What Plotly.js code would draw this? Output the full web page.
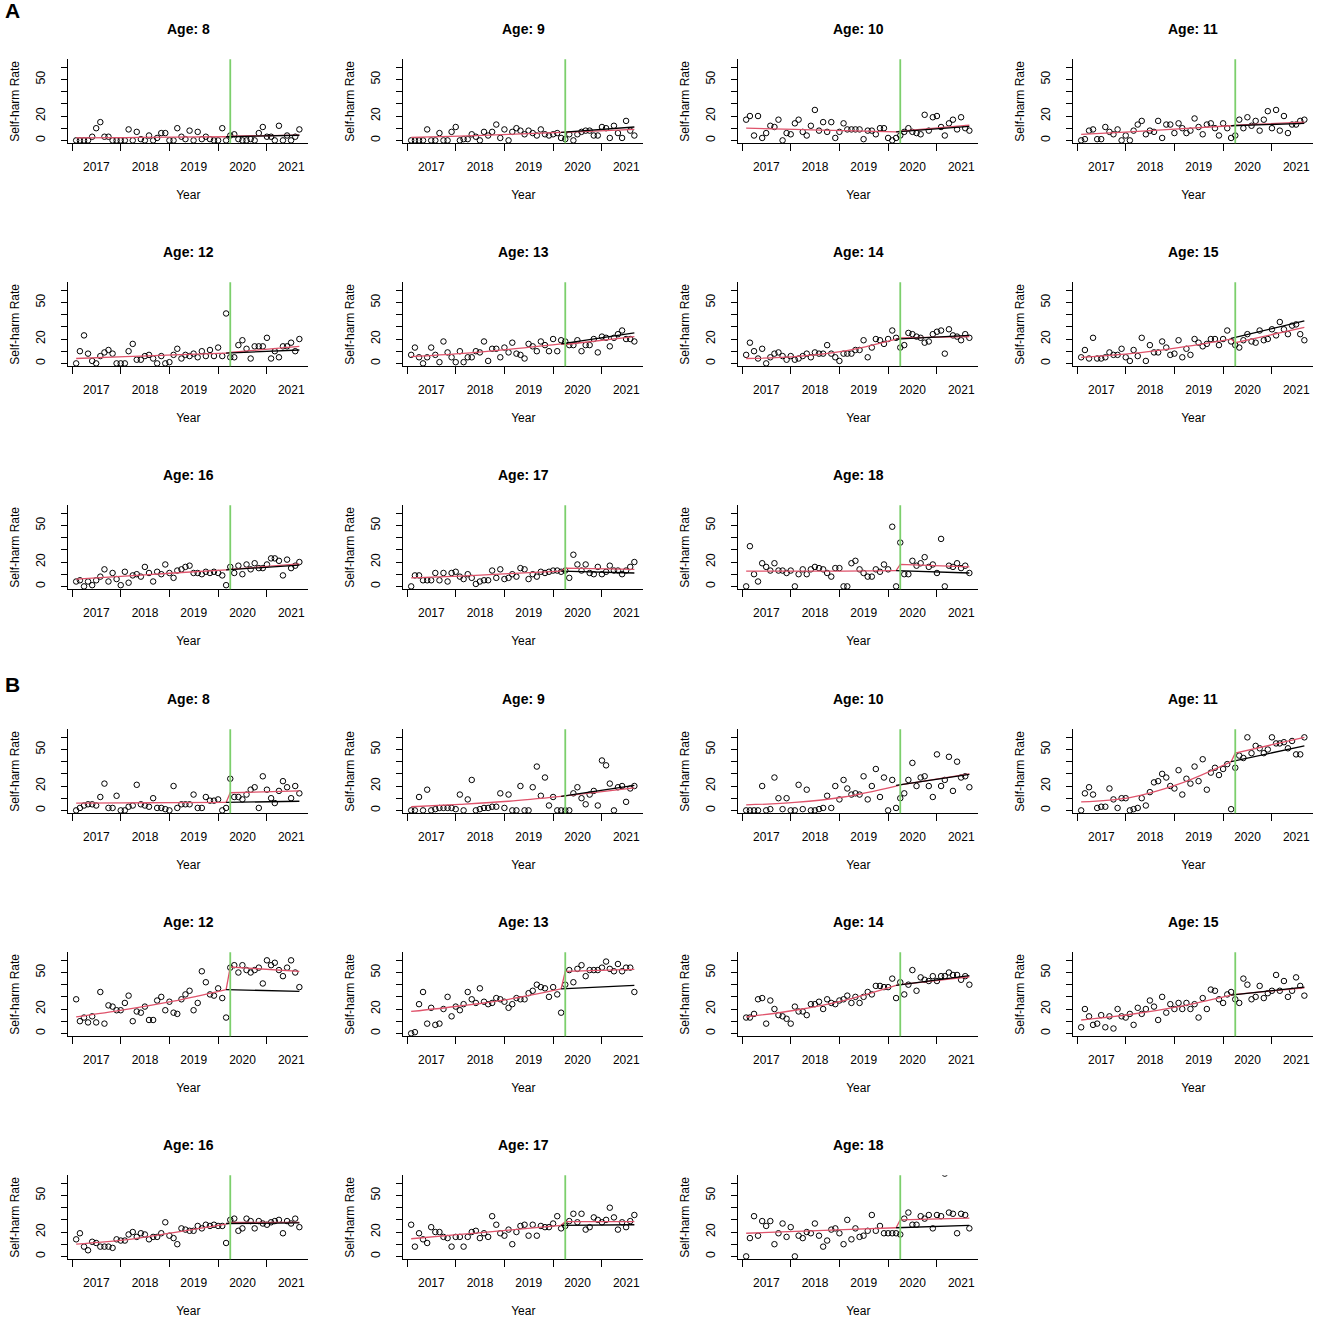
<!DOCTYPE html>
<html>
<head>
<meta charset="utf-8">
<script src="https://cdn.plot.ly/plotly-3.0.1.min.js"></script>
<style>
  html, body { margin: 0; padding: 0; background: #fff; }
  #chart { width: 1325px; height: 1325px; }
</style>
</head>
<body>
<div id="chart"></div>
<script>
// monthly self-harm rates, Feb 2017 .. Sep 2021 (56 months)
const ages = [8, 9, 10, 11, 12, 13, 14, 15, 16, 17, 18];
const groups = ["A", "B"];

const rateA8  = [0,0,0,0,3,10,15,3,3,0, 0,0,0,9,0,7,1,0,4,0, 2,6,6,0,0,10,3,1,8,0, 7,1,3,1,0,0,10,0,4,5, 1,0,0,1,0,6,11,3,3,0, 12,0,4,0,3,9];
const rateA9  = [0,0,0,0,9,0,0,6,0,0, 7,11,0,1,1,5,3,0,7,4, 7,13,2,9,0,7,10,8,5,8, 6,4,9,5,4,5,6,2,1,5, 0,5,7,8,8,4,4,11,10,2, 12,6,2,16,8,4];
const rateA10 = [17,20,4,20,2,6,12,11,17,0, 6,5,14,17,7,4,12,25,8,15, 7,15,2,7,14,9,9,9,9,1, 8,8,5,10,10,2,0,2,4,7, 10,7,6,5,21,8,19,20,11,4, 14,17,9,19,10,8];
const rateA11 = [0,1,8,9,1,1,11,7,5,9, 0,4,0,8,13,16,5,8,7,16, 2,13,13,6,14,10,6,8,18,11, 5,13,14,10,4,14,10,2,4,17, 10,19,12,16,8,17,24,10,25,8, 20,6,13,13,16,17];
const rateA12 = [0,10,23,8,2,0,6,9,11,8, 0,0,0,10,16,3,3,6,7,4, 0,6,0,1,7,12,4,7,6,8, 5,10,6,11,6,13,6,41,5,5, 15,19,12,4,14,14,14,21,4,10, 5,14,14,17,10,20];
const rateA13 = [7,13,5,0,5,13,7,1,18,9, 5,1,10,1,5,5,10,9,18,2, 12,12,5,13,9,17,8,7,4,16, 14,10,18,15,10,20,10,19,18,15, 15,19,10,15,15,20,9,22,21,14, 21,24,27,20,20,18];
const rateA14 = [7,17,10,4,12,0,5,8,9,6, 3,6,3,4,6,8,5,9,8,8, 15,8,5,2,8,8,8,11,11,19, 5,13,20,19,16,20,27,21,13,15, 25,24,22,21,17,18,24,26,27,8, 28,23,22,19,24,21];
const rateA15 = [5,11,4,21,4,4,5,9,7,7, 12,5,2,11,6,21,2,15,9,9, 18,13,7,8,19,5,12,7,20,17, 14,16,20,20,15,20,27,18,15,13, 19,24,18,17,27,19,20,28,23,34, 28,24,31,32,24,19];
const rateA16 = [4,5,0,4,1,5,8,14,4,11, 6,1,12,3,9,10,8,16,11,4, 12,10,18,11,7,13,14,16,17,11, 11,10,12,11,12,11,9,1,16,11, 17,10,18,14,19,15,15,18,23,23, 21,9,22,15,17,20];
const rateA17 = [0,9,9,5,5,5,11,5,11,4, 11,12,8,6,10,7,2,4,5,5, 13,7,14,6,7,10,8,15,14,6, 10,8,12,11,12,13,13,12,13,7, 26,18,13,18,11,10,16,10,12,17, 13,13,10,13,16,20];
const rateA18 = [0,33,10,4,19,16,13,19,13,13, 11,13,0,10,14,10,14,16,15,14, 11,8,15,15,0,0,19,21,14,11, 8,8,14,12,18,14,49,0,36,10, 10,21,17,19,24,16,18,11,39,0, 17,16,19,15,17,11];

const rateB8  = [0,2,4,5,5,4,11,22,2,2, 12,0,0,3,4,21,5,4,3,10, 2,2,1,0,20,2,5,5,5,13, 2,2,11,8,8,9,0,2,26,11, 11,9,13,17,19,2,28,17,10,6, 16,24,19,10,20,14];
const rateB9  = [0,0,11,0,17,0,1,2,2,2, 2,1,13,0,9,25,0,1,2,2, 3,3,14,2,13,0,0,20,0,0, 19,36,12,27,4,11,0,0,0,0, 14,19,10,5,13,16,4,41,37,22, 0,19,20,7,18,20];
const rateB10 = [0,0,0,0,20,0,1,27,10,1, 10,0,0,21,1,17,0,0,1,2, 12,2,20,9,25,18,13,14,13,28, 9,20,34,11,27,0,25,2,10,14, 25,39,20,27,28,20,11,46,20,25, 44,16,40,27,28,19];
const rateB11 = [0,14,19,13,2,3,3,18,9,2, 10,10,0,1,2,10,4,15,23,24, 30,27,20,18,33,13,26,22,36,24, 42,17,31,35,29,34,38,1,35,45, 43,60,47,53,51,47,50,60,55,55, 56,51,57,46,46,60];
const rateB12 = [28,10,13,9,14,9,34,8,23,22, 19,19,25,31,10,18,17,22,11,11, 27,30,19,26,17,16,28,32,35,19, 25,51,42,32,31,37,29,13,54,56, 50,56,52,50,52,54,41,60,56,58, 52,47,54,60,50,38];
const rateB13 = [0,1,24,34,8,21,7,8,20,30, 14,22,19,24,34,28,25,37,26,24, 25,29,28,26,21,24,29,28,28,33, 35,40,38,37,30,38,32,17,40,52, 42,53,56,47,52,52,52,54,59,53, 51,57,51,54,54,34];
const rateB14 = [13,13,16,28,29,8,27,20,15,14, 12,8,22,18,18,15,24,24,26,20, 28,25,24,27,28,31,25,30,25,30, 34,32,39,39,38,38,45,29,42,32, 40,52,35,46,44,43,47,43,47,47, 50,48,48,44,47,40];
const rateB15 = [5,20,14,7,8,15,5,14,4,20, 14,13,16,7,21,16,20,27,22,11, 30,17,24,20,25,20,25,20,24,13, 29,20,36,35,28,25,32,34,28,25, 45,40,28,30,39,29,33,35,48,35, 43,30,35,46,39,31];
const rateB16 = [14,19,8,5,12,11,8,8,8,7, 14,13,13,18,20,16,19,18,14,16, 16,19,28,17,15,10,23,22,21,21, 25,23,26,25,26,25,25,11,30,31, 21,23,31,29,23,29,27,26,28,29, 30,19,29,27,31,24];
const rateB17 = [26,8,19,14,11,24,20,20,16,15, 8,16,16,8,16,20,21,15,19,16, 33,26,19,17,22,10,20,25,26,17, 26,17,25,24,24,27,33,23,25,29, 35,28,35,22,24,32,30,28,30,40, 32,22,28,24,29,34];
const rateB18 = [0,15,33,17,29,25,29,10,19,27, 16,24,0,17,15,20,19,27,17,8, 13,22,23,19,10,30,14,23,16,17, 21,34,21,25,19,19,19,19,18,31, 36,26,26,33,31,34,23,34,33,68, 36,35,19,35,34,23];

const ratesA = [rateA8, rateA9, rateA10, rateA11, rateA12, rateA13, rateA14, rateA15, rateA16, rateA17, rateA18];
const ratesB = [rateB8, rateB9, rateB10, rateB11, rateB12, rateB13, rateB14, rateB15, rateB16, rateB17, rateB18];

// fitted model (pink): pre-period at months 0,12,24,37 ; post-period at months 38,55
// counterfactual (black): months 37,55
const fitPreA  = [[2,2.3,2.7,3],[2.5,3.5,5,6.5],[10,9,8,7],[5,7,9.5,12],[4,5.5,7,8.5],[5.5,8,11.5,16],[4,5.5,10,20],[5,8,13,20],[6,8.5,11,13.5],[7,8.5,10.5,12.5],[12.5,12.5,12.5,13]];
const fitPostA = [[3.5,4.3],[6.5,9],[7.5,12.5],[12.5,15],[9,14],[15.5,22],[21,22],[17,29.5],[14,18.5],[15,14],[18,16]];
const cfA      = [[3,4.2],[6.5,11],[7,11.5],[12,14],[8.5,11],[16,25],[20,23],[20.5,35],[13.5,17.5],[12.5,11],[13,11]];

const fitPreB  = [[6,6.2,6.4,6.5],[3,5,7.5,11.5],[4.5,6.5,11,20],[7,10.5,21.5,40],[13.5,19.5,26.5,36],[18,22.5,28,36.5],[13.5,19,27,39.5],[11,15.5,22,31.5],[10,13.5,19.5,26.5],[14.5,18,21.5,25.5],[19,20.5,22,23.5]];
const fitPostB = [[14.5,16],[12,18.5],[21,30],[47,60],[54.5,51],[51,52.5],[40,46.5],[32,37.5],[28,28],[28.5,28.5],[30,31.5]];
const cfB      = [[6.5,7.5],[11.5,20.5],[20.5,29.5],[40,53],[36,34.5],[36.5,39.5],[39.5,47.5],[31.5,38],[27,27.5],[25.5,26],[23.5,25.5]];

const yearLabels = ["2017", "2018", "2019", "2020", "2021"];
const yearStarts = ["2017-01-01", "2018-01-01", "2019-01-01", "2020-01-01", "2021-01-01"];
const midYears   = ["2017-07-02", "2018-07-02", "2019-07-02", "2020-07-02", "2021-07-02"];
const yTicks     = [0, 10, 20, 30, 40, 50, 60];
const yTickText  = ["0", "", "20", "", "", "50", ""];

const PRE_KNOTS = [0, 12, 24, 37];
const LAST_PRE = 37, FIRST_POST = 38, LAST = 55;

// month categories
const months = [];
for (let i = 0; i < rateA8.length; i++) {
    const d = new Date(Date.UTC(2017, 1 + i, 1));
    months.push(d.toISOString().slice(0, 10));
}

const W = 1325, H = 1325;
const PW = 240, PH = 84;
const colLeft = [68.3, 403.3, 738.3, 1073.3];
const rowTop = [59.3, 282.3, 505.3];
const groupShift = 670;

const FONT = "Liberation Sans, Arial, Helvetica, sans-serif";
const PINK = "#DF536B";
const GREEN = "#7CCF6C";

const traces = [];
const layout = {
    width: W, height: H,
    margin: {l: 0, r: 0, t: 0, b: 0},
    paper_bgcolor: "#fff", plot_bgcolor: "#fff",
    showlegend: false,
    font: {family: FONT, size: 12, color: "#000"},
    shapes: [], annotations: []
};

const allRates = [ratesA, ratesB];
const allPre = [fitPreA, fitPreB];
const allPost = [fitPostA, fitPostB];
const allCf = [cfA, cfB];

groups.forEach((g, gi) => {
    ages.forEach((age, p) => {
        const k = gi * ages.length + p + 1;
        const xId = k === 1 ? "x" : "x" + k;
        const yId = k === 1 ? "y" : "y" + k;
        const row = Math.floor(p / 4), col = p % 4;
        const left = colLeft[col];
        const top = rowTop[row] + gi * groupShift;

        layout[k === 1 ? "xaxis" : "xaxis" + k] = {
            domain: [left / W, (left + PW) / W],
            anchor: yId,
            type: "date",
            range: ["2016-12-04", "2021-11-07"],
            showline: true, linecolor: "#000", linewidth: 1,
            showgrid: false, zeroline: false,
            tickmode: "array", tickvals: midYears, ticktext: yearLabels,
            ticks: "outside", ticklen: 12, tickcolor: "rgba(0,0,0,0)",
            minor: {tickmode: "array", tickvals: yearStarts, ticks: "outside",
                    ticklen: 7, tickwidth: 1, tickcolor: "#000", showgrid: false},
            tickfont: {family: FONT, size: 12, color: "#000"},
            title: {text: "Year", font: {family: FONT, size: 12, color: "#000"}, standoff: 17},
            fixedrange: true
        };
        layout[k === 1 ? "yaxis" : "yaxis" + k] = {
            domain: [1 - (top + PH) / H, 1 - top / H],
            anchor: xId,
            range: [-2.4, 66.6],
            showline: true, linecolor: "#000", linewidth: 1,
            showgrid: false, zeroline: false,
            tickmode: "array", tickvals: yTicks, ticktext: yTickText,
            ticks: "outside", ticklen: 6, tickwidth: 1, tickcolor: "#000",
            tickangle: -90, ticklabelstandoff: 11,
            tickfont: {family: FONT, size: 12.5, color: "#000"},
            title: {text: "Self-harm Rate", font: {family: FONT, size: 12, color: "#000"}, standoff: 12},
            fixedrange: true
        };

        const rates = allRates[gi][p];
        const pre = allPre[gi][p];
        const post = allPost[gi][p];
        const cf = allCf[gi][p];

        traces.push({
            x: months, y: rates, type: "scatter", mode: "markers",
            xaxis: xId, yaxis: yId, hoverinfo: "skip",
            marker: {symbol: "circle-open", size: 5.5, color: "#000", line: {width: 1, color: "#000"}}
        });
        traces.push({
            x: PRE_KNOTS.map(i => months[i]), y: pre, type: "scatter", mode: "lines",
            xaxis: xId, yaxis: yId, hoverinfo: "skip",
            line: {color: PINK, width: 1.3, shape: "spline"}
        });
        traces.push({
            x: [months[LAST_PRE], months[FIRST_POST], months[LAST]],
            y: [pre[pre.length - 1], post[0], post[1]],
            type: "scatter", mode: "lines", xaxis: xId, yaxis: yId, hoverinfo: "skip",
            line: {color: PINK, width: 1.3}
        });
        traces.push({
            x: [months[LAST_PRE], months[LAST]], y: cf,
            type: "scatter", mode: "lines", xaxis: xId, yaxis: yId, hoverinfo: "skip",
            line: {color: "#000", width: 1.3}
        });

        // interruption line
        layout.shapes.push({
            type: "line", layer: "above",
            xref: xId, yref: yId + " domain",
            x0: months[FIRST_POST], x1: months[FIRST_POST], y0: 0, y1: 1,
            line: {color: GREEN, width: 1.8}
        });

        layout.annotations.push({
            xref: xId + " domain", yref: yId + " domain",
            x: 0.5, y: 1, yanchor: "middle", yshift: 30,
            text: "<b>Age: " + age + "</b>", showarrow: false,
            font: {family: FONT, size: 14, color: "#000"}
        });
    });

    layout.annotations.push({
        xref: "paper", yref: "paper",
        x: 12 / W, y: 1 - (11 + gi * (groupShift + 3)) / H,
        xanchor: "center", yanchor: "middle",
        text: "<b>" + g + "</b>", showarrow: false,
        font: {family: FONT, size: 21, color: "#000"}
    });
});

Plotly.newPlot("chart", traces, layout, {displayModeBar: false, staticPlot: true});
</script>
</body>
</html>
